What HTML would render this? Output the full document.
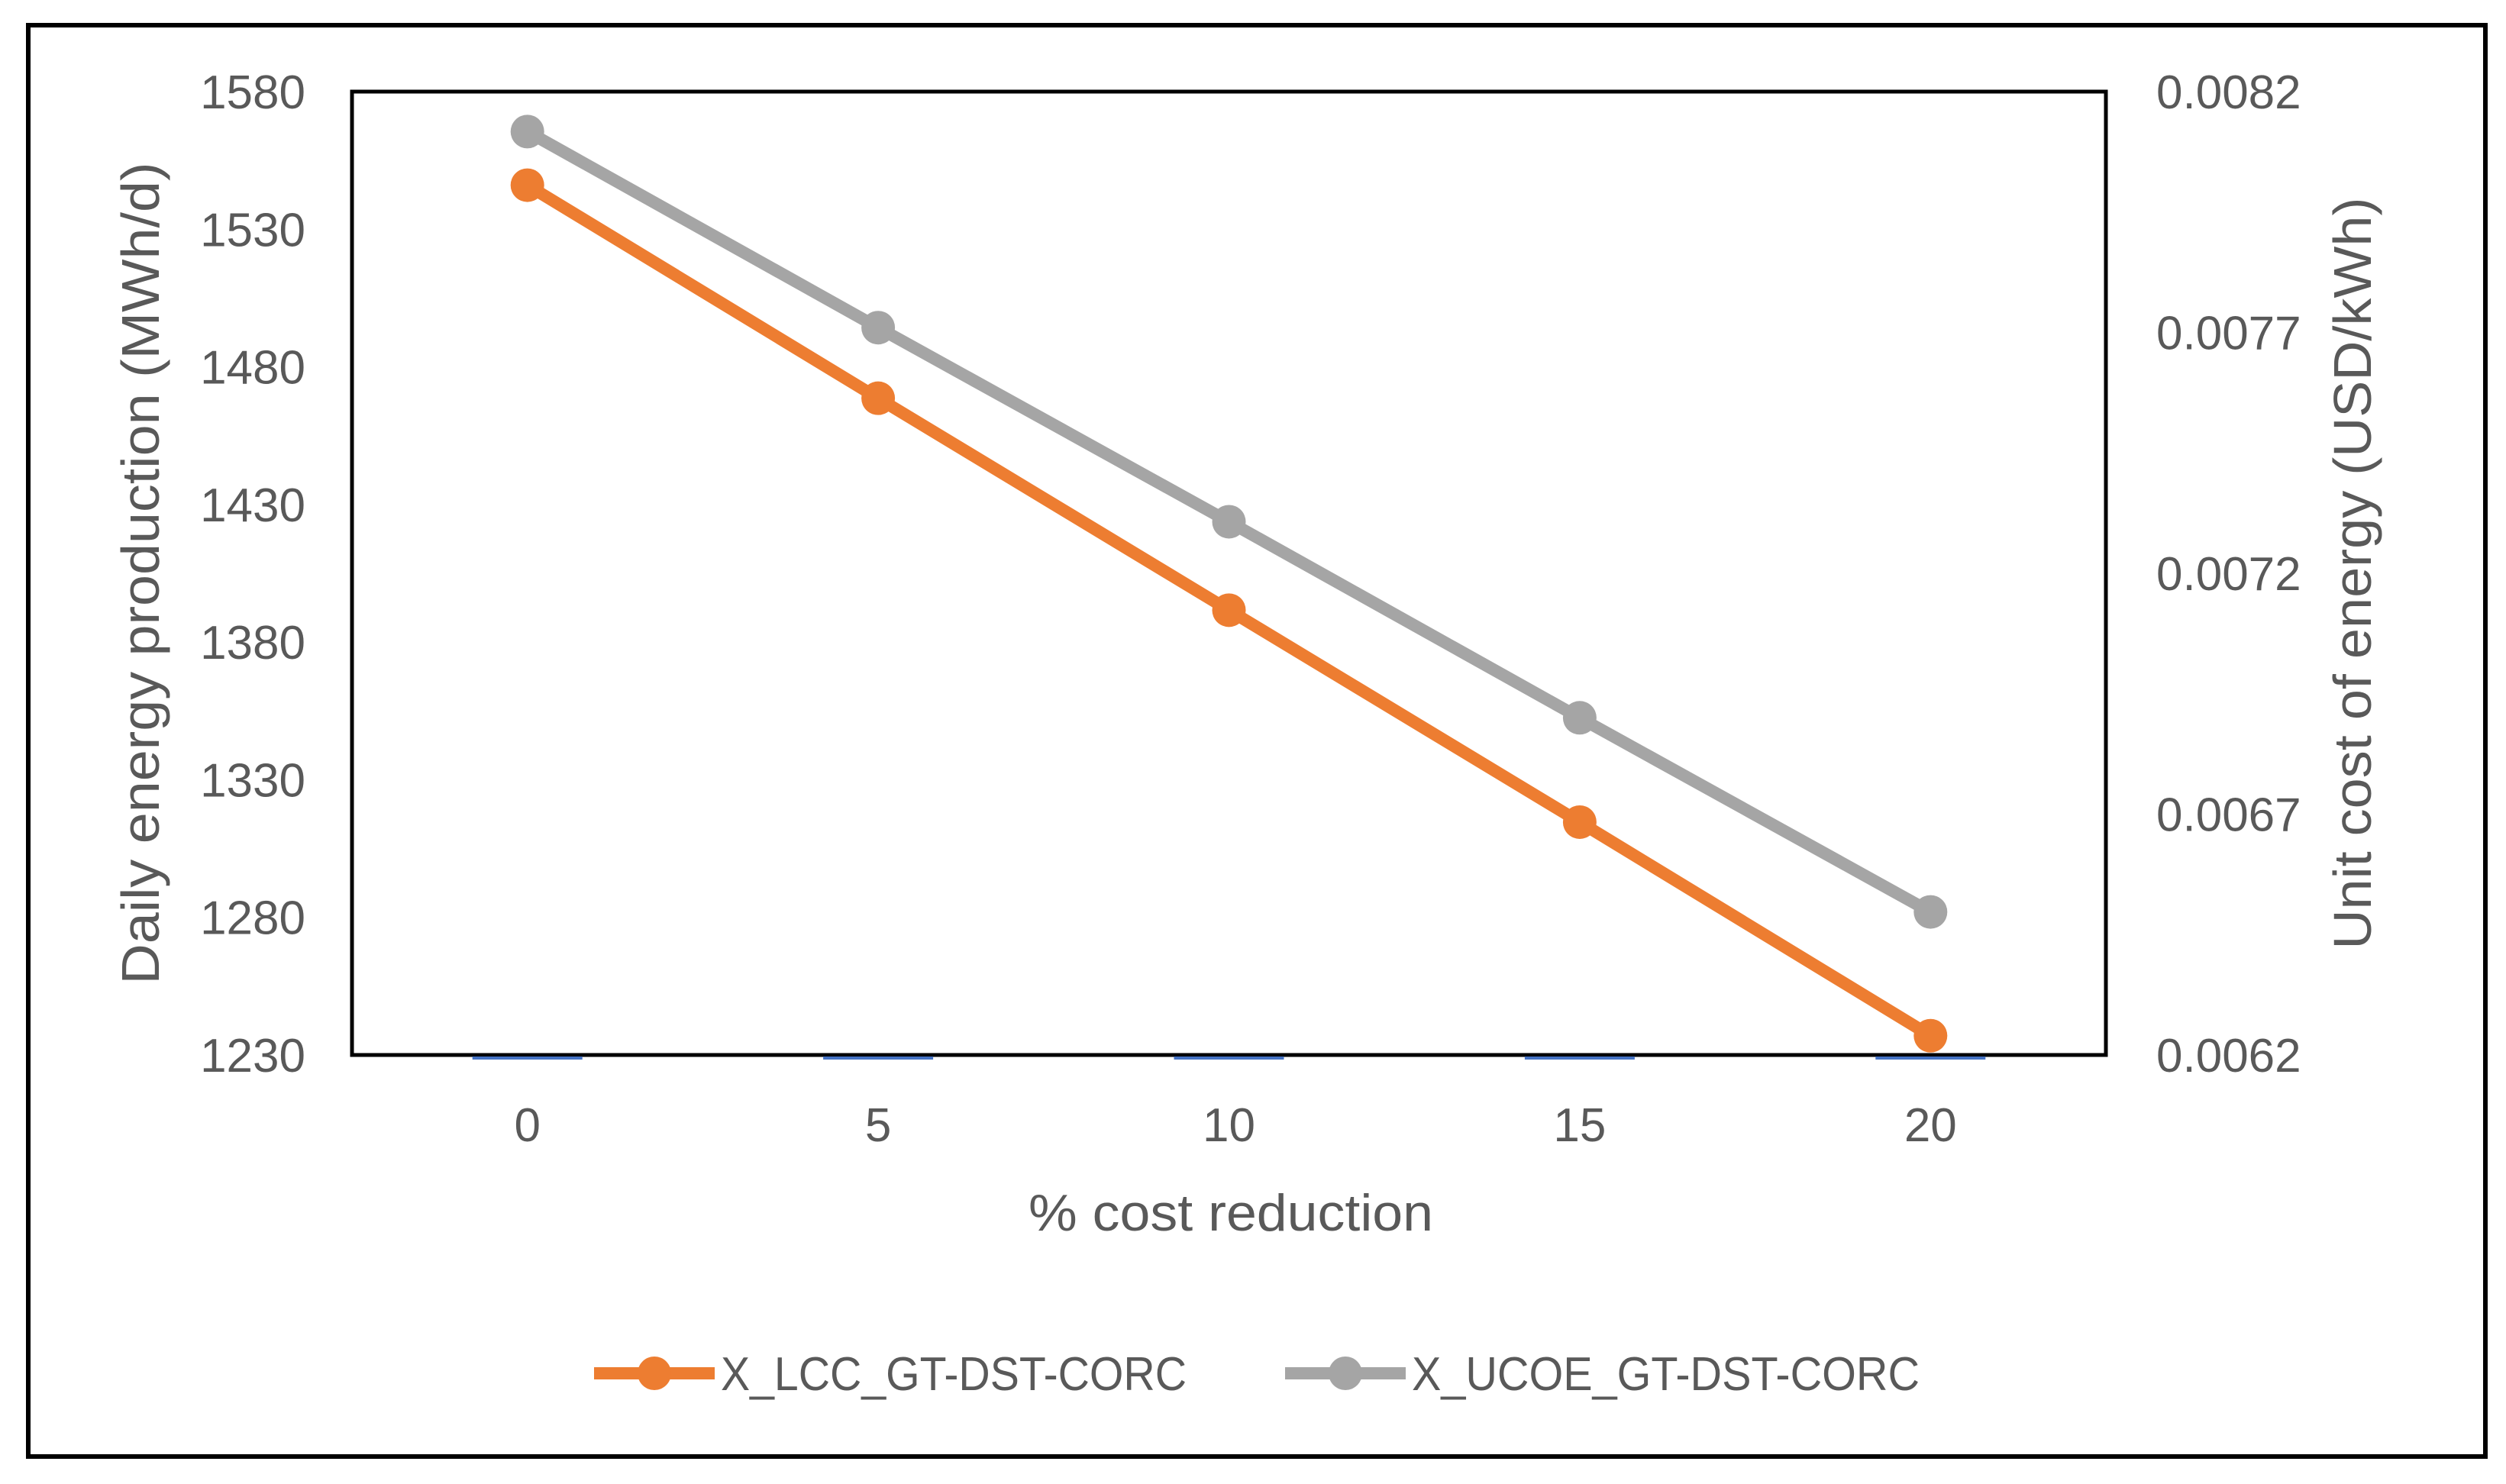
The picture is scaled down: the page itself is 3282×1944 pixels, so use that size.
<!DOCTYPE html>
<html><head><meta charset="utf-8"><style>
html,body{margin:0;padding:0;background:#fff;}
svg text{font-family:"Liberation Sans",sans-serif;fill:#595959;}
</style></head><body>
<svg width="3282" height="1939" viewBox="0 0 3282 1939" xmlns="http://www.w3.org/2000/svg">
<rect x="37" y="33" width="3218" height="1875" fill="#fff" stroke="#000" stroke-width="6"/>
<g id="g"></g>
</svg>
<script>
const categories=[0,5,10,15,20];
const lccValues=[1546,1468.6,1391.6,1314.6,1237];
const ucoeValues=[0.008117,0.00771,0.007307,0.0069,0.006497];
const leftTicks=[1230,1280,1330,1380,1430,1480,1530,1580];
const rightTicks=["0.0062","0.0067","0.0072","0.0077","0.0082"];
const NS="http://www.w3.org/2000/svg";
const g=document.getElementById('g');
const PL=461,PT=120,PR=2758,PB=1382;
const yL=v=>PB-(v-1230)/(1580-1230)*(PB-PT);
const yR=v=>PB-(v-0.0062)/(0.0082-0.0062)*(PB-PT);
const xC=i=>PL+(PR-PL)/categories.length*(i+0.5);
function el(t,a,txt){const e=document.createElementNS(NS,t);for(const k in a)e.setAttribute(k,a[k]);if(txt!==undefined)e.textContent=txt;g.appendChild(e);return e;}
let e;
e=el('rect',{x:PL,y:PT,width:PR-PL,height:PB-PT,fill:'none',stroke:'#000','stroke-width':5});


leftTicks.forEach(v=>{e=el('text',{x:400,y:yL(v)+22,'text-anchor':'end','font-size':62},String(v));

});
rightTicks.forEach(v=>{e=el('text',{x:2824,y:yR(parseFloat(v))+22,'font-size':62},v);

});
categories.forEach((c,i)=>{e=el('text',{x:xC(i),y:1495,'text-anchor':'middle','font-size':62},String(c));


e=el('line',{x1:xC(i)-72,x2:xC(i)+72,y1:PB+4,y2:PB+4,stroke:'#4472c4','stroke-width':4});

});
function series(vals,f,col,name){
 e=el('polyline',{points:vals.map((v,i)=>xC(i)+','+f(v)).join(' '),fill:'none',stroke:col,'stroke-width':16,'stroke-linejoin':'round'});
 
 
 vals.forEach((v,i)=>{e=el('circle',{cx:xC(i),cy:f(v),r:22,fill:col});
 
 });
}
series(ucoeValues,yR,'#a5a5a5','ucoe');
series(lccValues,yL,'#ed7d31','lcc');
e=el('text',{x:1612,y:1612,'text-anchor':'middle','font-size':68,textLength:530,lengthAdjust:'spacingAndGlyphs'},'% cost reduction');


e=el('text',{x:0,y:0,'text-anchor':'middle','font-size':70,textLength:1077,lengthAdjust:'spacingAndGlyphs',transform:'translate(208,751) rotate(-90)'},'Daily energy production (MWh/d)');


e=el('text',{x:0,y:0,'text-anchor':'middle','font-size':70,textLength:985,lengthAdjust:'spacingAndGlyphs',transform:'translate(3105,751) rotate(-90)'},'Unit cost of energy (USD/kWh)');


function legend(x1,x2,col,label,name,len){
 e=el('line',{x1:x1,x2:x2,y1:1799,y2:1799,stroke:col,'stroke-width':16});
 
 
 e=el('circle',{cx:(x1+x2)/2,cy:1799,r:22,fill:col});
 
 
 e=el('text',{x:x2+8,y:1821,'font-size':62,textLength:len,lengthAdjust:'spacingAndGlyphs'},label);
 
 
}
legend(778,936,'#ed7d31','X_LCC_GT-DST-CORC','lcc',610);
legend(1683,1841,'#a5a5a5','X_UCOE_GT-DST-CORC','ucoe',665);
</script>
</body></html>
